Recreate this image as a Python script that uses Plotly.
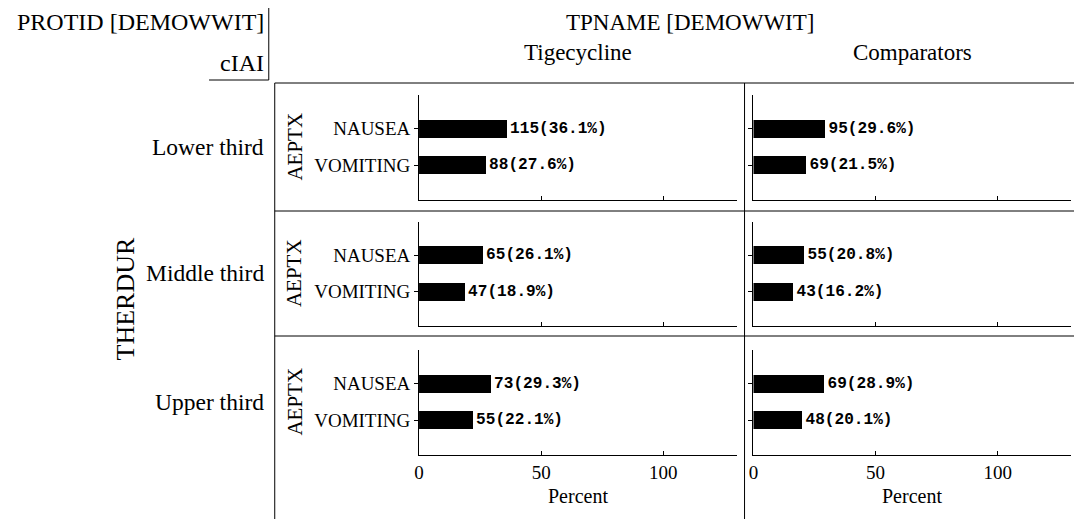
import plotly.graph_objects as go
from plotly.subplots import make_subplots

# Panel factors
treatments = ["Tigecycline", "Comparators"]
durations = ["Lower third", "Middle third", "Upper third"]
terms = ["NAUSEA", "VOMITING"]

# Counts and percentages, ordered by duration then term
tige_counts = [115, 88, 65, 47, 73, 55]
tige_pct = [36.1, 27.6, 26.1, 18.9, 29.3, 22.1]
comp_counts = [95, 69, 55, 43, 69, 48]
comp_pct = [29.6, 21.5, 20.8, 16.2, 28.9, 20.1]

x_ticks = [0, 50, 100]
x_max = 130

W, H = 1074, 519
SERIF = "Liberation Serif"
MONO = "Liberation Mono"


def fx(p):
    return p / W


def fy(p):
    return 1 - p / H


# pixel geometry of the lattice
col_x = [(416, 735), (752, 1071)]
row_y = [(95, 200), (222, 326), (350, 455)]
cat_range = [1.95, -0.92]

fig = make_subplots(rows=3, cols=2)

series = [(tige_counts, tige_pct), (comp_counts, comp_pct)]
for c, (counts, pcts) in enumerate(series):
    for r in range(3):
        n = counts[2 * r:2 * r + 2]
        p = pcts[2 * r:2 * r + 2]
        fig.add_trace(
            go.Bar(
                x=p, y=terms, orientation="h", width=0.5,
                marker=dict(color="black", line=dict(width=0)),
                text=[f"{a}({b:.1f}%)" for a, b in zip(n, p)],
                textposition="outside", cliponaxis=False,
                textfont=dict(family=MONO, size=17, color="black", weight="bold"),
                showlegend=False, hoverinfo="skip",
            ),
            row=r + 1, col=c + 1,
        )
        x0, x1 = col_x[c]
        top, bot = row_y[r]
        fig.update_xaxes(
            domain=[fx(x0), fx(x1)], range=[0, x_max],
            tickvals=x_ticks, ticks="inside", ticklen=4, tickcolor="black",
            showline=True, linecolor="black", linewidth=1,
            showgrid=False, zeroline=False,
            showticklabels=(r == 2),
            tickfont=dict(family=SERIF, size=19, color="black"),
            row=r + 1, col=c + 1,
        )
        fig.update_yaxes(
            domain=[fy(bot), fy(top)], range=cat_range, type="category",
            categoryorder="array", categoryarray=terms,
            ticks="outside", ticklen=4, tickcolor="black",
            showline=True, linecolor="black", linewidth=1,
            showgrid=False, zeroline=False,
            showticklabels=(c == 0),
            tickfont=dict(family=SERIF, size=19, color="black"),
            row=r + 1, col=c + 1,
        )

# lattice frame
lines = [
    (271, 83, W, 83),
    (271, 211, W, 211),
    (271, 336, W, 336),
    (271, 83, 271, H),
    (743, 83, 743, H),
    (265, 8, 265, 80),
    (205, 80, 265, 80),
]
for x0, y0, x1, y1 in lines:
    fig.add_shape(type="line", xref="paper", yref="paper",
                  x0=fx(x0), y0=fy(y0), x1=fx(x1), y1=fy(y1),
                  line=dict(color="black", width=1))


def label(text, x, y, size, anchor="center", angle=0):
    fig.add_annotation(text=text, x=fx(x), y=fy(y), xref="paper", yref="paper",
                       xanchor=anchor, yanchor="middle", showarrow=False,
                       textangle=angle,
                       font=dict(family=SERIF, size=size, color="black"))


label("PROTID [DEMOWWIT]", 262, 22, 24, anchor="right")
label("cIAI", 262, 63, 24, anchor="right")
label("TPNAME [DEMOWWIT]", 688, 23, 23)
for c, name in enumerate(treatments):
    label(name, sum(col_x[c]) / 2, 52, 23)
    label("Percent", sum(col_x[c]) / 2, 496, 20)

for r, name in enumerate(durations):
    top, bot = row_y[r]
    mid = top + (0.5 - cat_range[1]) / (cat_range[0] - cat_range[1]) * (bot - top)
    label(name, 262, mid, 23.5, anchor="right")
    label("AEPTX", 291, mid, 21, angle=-90)

label("THERDUR", 121, 299, 26, angle=-90)

fig.update_layout(
    width=W, height=H, margin=dict(l=0, r=0, t=0, b=0),
    plot_bgcolor="white", paper_bgcolor="white",
    bargap=0,
)

fig.write_html("out.html")
